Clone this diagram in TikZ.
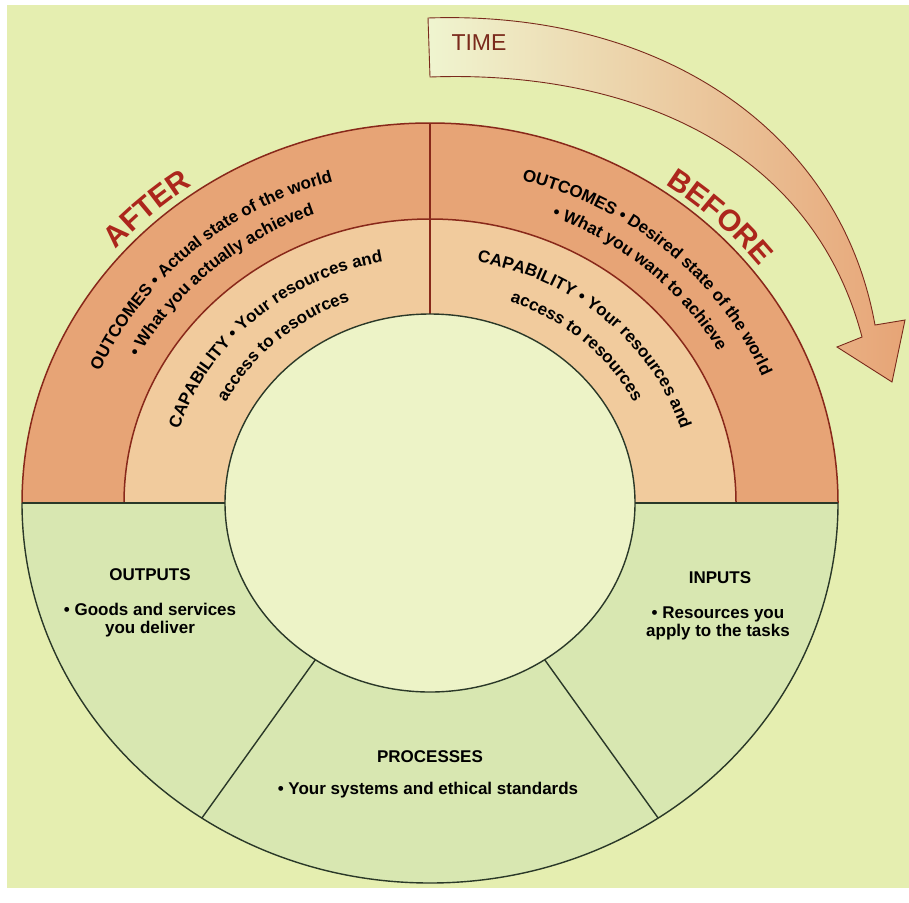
\documentclass[tikz,border=0pt]{standalone}
\usepackage{fontspec}
\setmainfont{Liberation Sans}
\usetikzlibrary{calc,decorations.text,positioning}
\definecolor{paper}{RGB}{229,238,176}
\definecolor{innerfill}{RGB}{237,243,199}
\definecolor{lowring}{RGB}{216,231,177}
\definecolor{outring}{RGB}{231,164,118}
\definecolor{capring}{RGB}{241,203,157}
\definecolor{redline}{RGB}{136,40,26}
\definecolor{greenline}{RGB}{42,56,40}
\definecolor{redtext}{RGB}{172,38,28}
\definecolor{timetext}{RGB}{122,42,28}
\newcommand{\ringfont}{\fontsize{17}{18}\selectfont\bfseries}
\newcommand{\bigfont}{\fontsize{30}{32}\selectfont\bfseries}

\tikzset{
  lbl/.style={font=\fontsize{17}{18}\selectfont\bfseries,align=center,inner sep=1pt},
  arctext/.style={decorate,decoration={text along path,text align=center,text={#1}}},
  redarc/.style={draw=redline,line width=1.5pt},
  greenarc/.style={draw=greenline,line width=1.4pt}
}

\begin{document}
\begin{tikzpicture}[x=1pt,y=1pt]
\useasboundingbox (0,0) rectangle (909,-902);
\fill[white] (0,0) rectangle (909,-902);
\fill[paper] (7,-5) rectangle (909,-888);
\coordinate (c) at (430,-503);

% rings
\fill[lowring] (c) ellipse [x radius=408,y radius=380];
\fill[outring] ($(c)+(-408,0)$) arc [start angle=180,end angle=0,x radius=408,y radius=380] -- cycle;
\fill[capring] ($(c)+(-306,0)$) arc [start angle=180,end angle=0,x radius=306,y radius=284] -- cycle;
\fill[innerfill] (c) ellipse [x radius=205,y radius=189];

\coordinate (otop) at ($(c)+(0,380)$);
\coordinate (itop) at ($(c)+(0,189)$);
\coordinate (oleft) at ($(c)+(-408,0)$);
\coordinate (ileft) at ($(c)+(-205,0)$);
\coordinate (iright) at ($(c)+(205,0)$);
\coordinate (oright) at ($(c)+(408,0)$);
\coordinate (pl1) at ($(c)+(236:205 and 189)$);
\coordinate (pl2) at ($(c)+(236:408 and 380)$);
\coordinate (pr1) at ($(c)+(304:205 and 189)$);
\coordinate (pr2) at ($(c)+(304:408 and 380)$);

\path[redarc] (oleft) arc [start angle=180,end angle=0,x radius=408,y radius=380];
\path[redarc] ($(c)+(-306,0)$) arc [start angle=180,end angle=0,x radius=306,y radius=284];
\draw[redarc] (otop) -- (itop);
\path[greenarc] (oleft) arc [start angle=180,end angle=360,x radius=408,y radius=380];
\path[greenarc] (c) ellipse [x radius=205,y radius=189];
\draw[greenarc] (oleft) -- (ileft) (iright) -- (oright);
\draw[greenarc] (pl1) -- (pl2) (pr1) -- (pr2);

% curved texts
\path[arctext={|\bigfont|AFTER},decoration={text color=redtext}]
  ($(c)+(180:416 and 387)$) arc [start angle=180,end angle=86,x radius=416,y radius=387];
\path[arctext={|\bigfont|BEFORE},decoration={text color=redtext}]
  ($(c)+(92.5:416 and 387)$) arc [start angle=92.5,end angle=-1.5,x radius=416,y radius=387];
\path[arctext={|\ringfont|OUTCOMES • Actual state of the world}]
  ($(c)+(180:359 and 334)$) arc [start angle=180,end angle=84,x radius=359,y radius=334];
\path[arctext={|\ringfont|• What you actually achieved}]
  ($(c)+(180:331 and 308)$) arc [start angle=180,end angle=84,x radius=331,y radius=308];
\path[arctext={|\ringfont|OUTCOMES • Desired state of the world}]
  ($(c)+(96:359 and 334)$) arc [start angle=96,end angle=0,x radius=359,y radius=334];
\path[arctext={|\ringfont|• What you want to achieve}]
  ($(c)+(96:331 and 308)$) arc [start angle=96,end angle=0,x radius=331,y radius=308];
\path[arctext={|\ringfont|CAPABILITY • Your resources and}]
  ($(c)+(180:263 and 245)$) arc [start angle=180,end angle=84,x radius=263,y radius=245];
\path[arctext={|\ringfont|access to resources}]
  ($(c)+(180:231 and 215)$) arc [start angle=180,end angle=84,x radius=231,y radius=215];
\path[arctext={|\ringfont|CAPABILITY • Your resources and}]
  ($(c)+(96:263 and 245)$) arc [start angle=96,end angle=0,x radius=263,y radius=245];
\path[arctext={|\ringfont|access to resources}]
  ($(c)+(96:231 and 215)$) arc [start angle=96,end angle=0,x radius=231,y radius=215];

% lower ring labels
\node[lbl] (outputs) at (150,-575) {OUTPUTS};
\node[lbl] (outputsTxt) at (150,-620) {• Goods and services\\you deliver};
\node[lbl] (inputs) at (720,-578) {INPUTS};
\node[lbl] (inputsTxt) at (718,-623) {• Resources you\\apply to the tasks};
\node[lbl] (processes) at (430,-757) {PROCESSES};
\node[lbl] (processesTxt) at (428,-790) {• Your systems and ethical standards};

% time arrow
\shadedraw[draw=timetext,line width=0.9pt,left color=paper!60!white,middle color=paper!75!outring,right color=outring]
  (428,-18) .. controls (660,-10) and (840,-130) .. (875,-325) -- (905,-320) -- (892,-382)
  -- (837,-347) -- (862,-337) .. controls (810,-140) and (620,-70) .. (430,-77) -- cycle;
\node[font=\fontsize{23}{24}\selectfont,text=timetext] (time) at (479,-43) {TIME};
\end{tikzpicture}
\end{document}
